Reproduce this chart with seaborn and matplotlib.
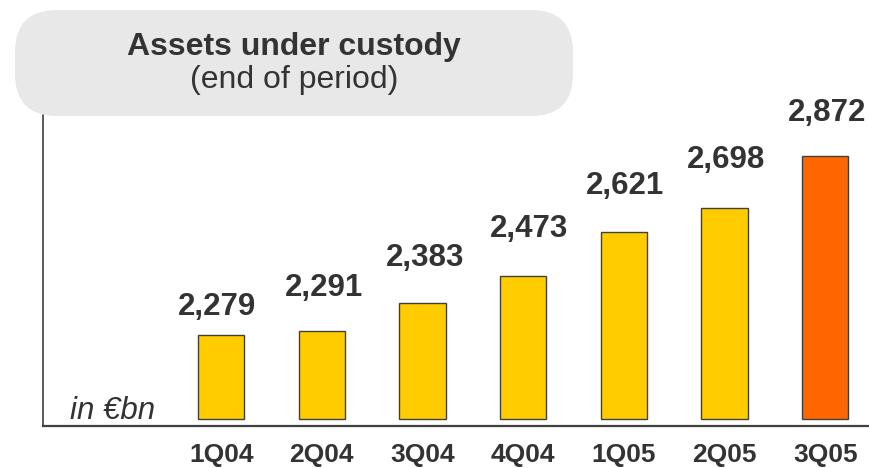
import matplotlib
matplotlib.use("Agg")
import matplotlib.pyplot as plt
from matplotlib.patches import FancyBboxPatch
import seaborn as sns

# Quarter-end assets under custody, in EUR bn
quarters = ["1Q04", "2Q04", "3Q04", "4Q04", "1Q05", "2Q05", "3Q05"]
assets = [2279, 2291, 2383, 2473, 2621, 2698, 2872]
bar_colors = ["#FFCC00", "#FFCC00", "#FFCC00", "#FFCC00", "#FFCC00", "#FFCC00", "#FF6600"]

# value-label placement (pixels): gap above bar top, sideways nudge
label_gap_px = [20, 35, 37, 39, 38, 40, 35]
label_dx_px = [-4, 2, 3, 6, 1, 2, 2]

BASE = 2000          # bars start at this value (truncated scale)
TEXT = "#333333"
LINE = "#404040"
PT_PER_PX = 0.72

sns.set_theme(style="white")
plt.rcParams["font.family"] = ["Liberation Sans", "DejaVu Sans"]

fig = plt.figure(figsize=(8.69, 4.68), dpi=100)
ax = fig.add_axes([43 / 869, 1 - 426 / 468, 1 - 43 / 869, (426 - 108) / 468])
ax.set_facecolor("none")

# rounded grey header panel behind the axes
panel = FancyBboxPatch((0.15, 3.52), 5.58, 1.06,
                       boxstyle="round,pad=0,rounding_size=0.42",
                       transform=fig.dpi_scale_trans,
                       facecolor="#E8E8E8", edgecolor="none", zorder=0)
fig.patches.append(panel)

sns.barplot(x=quarters, y=assets, hue=quarters, palette=bar_colors,
            legend=False, width=0.46, edgecolor=LINE, linewidth=1.0,
            saturation=1, ax=ax)

# raise each bar so it rises from BASE instead of zero, then label it
for bar, val, gap, dx in zip(ax.patches, assets, label_gap_px, label_dx_px):
    bar.set_y(BASE)
    bar.set_height(val - BASE)
    ax.annotate(f"{val:,}", (bar.get_x() + bar.get_width() / 2, val),
                xytext=(dx * PT_PER_PX, gap * PT_PER_PX),
                textcoords="offset points",
                ha="center", va="baseline", fontsize=22.5, fontweight="bold",
                color=TEXT)

ax.set_xlim(-1.77, 6.435)
ax.set_ylim(1977, 3030)

for side in ("top", "right"):
    ax.spines[side].set_visible(False)
ax.spines["bottom"].set_color(LINE)
ax.spines["bottom"].set_linewidth(1.6)
ax.spines["left"].set_color(LINE)
ax.spines["left"].set_linewidth(1.2)

ax.set_yticks([])
ax.set_xlabel("")
ax.set_ylabel("")
ax.tick_params(axis="x", length=0, pad=12.5, labelsize=19, labelcolor=TEXT)
for lbl in ax.get_xticklabels():
    lbl.set_fontweight("bold")

fig.text(70 / 869, 1 - 419 / 468, "in €bn", fontsize=22.5, style="italic",
         color=TEXT, ha="left", va="baseline")

fig.text(294 / 869, 1 - 47 / 468, "Assets under custody", fontsize=23,
         fontweight="bold", color=TEXT, ha="center", va="center")
fig.text(294 / 869, 1 - 80 / 468, "(end of period)", fontsize=23,
         color=TEXT, ha="center", va="center")

fig.savefig("out.png", dpi=100)
